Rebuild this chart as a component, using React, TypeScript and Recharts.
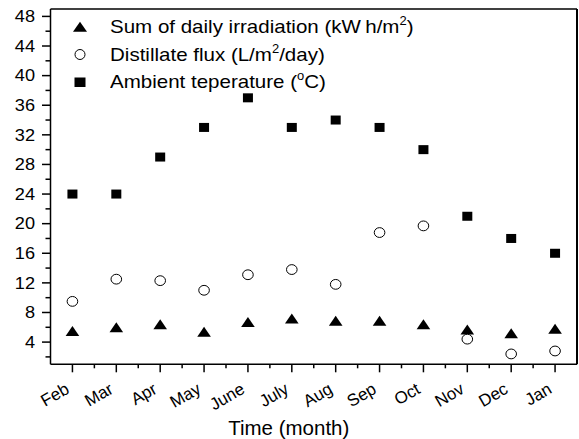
import React from 'react';
import { ScatterChart, Scatter, XAxis, YAxis, Legend } from 'recharts';

const months = ['Feb', 'Mar', 'Apr', 'May', 'June', 'July', 'Aug', 'Sep', 'Oct', 'Nov', 'Dec', 'Jan'];
const irradiation = [5.5, 6.0, 6.4, 5.4, 6.7, 7.2, 6.9, 6.9, 6.4, 5.7, 5.2, 5.8];
const distillate = [9.5, 12.5, 12.3, 11.0, 13.1, 13.8, 11.8, 18.8, 19.7, 4.4, 2.4, 2.8];
const ambient = [24, 24, 29, 33, 37, 33, 34, 33, 30, 21, 18, 16];

const monthPositions = [1, 2, 3, 4, 5, 6, 7, 8, 9, 10, 11, 12];
const monthMinorPositions = [1.5, 2.5, 3.5, 4.5, 5.5, 6.5, 7.5, 8.5, 9.5, 10.5, 11.5];
const yMajorTicks = [4, 8, 12, 16, 20, 24, 28, 32, 36, 40, 44, 48];
const yMinorTicks = [2, 6, 10, 14, 18, 22, 26, 30, 34, 38, 42, 46];
const frameTicks = [1, 2, 3, 4, 5, 6, 7, 8, 9];

const FONT = '"Liberation Sans", Arial, Helvetica, sans-serif';

const toPoints = (vals: number[]) => vals.map((v, i) => ({ x: monthPositions[i], y: v }));
const irrData = toPoints(irradiation);
const disData = toPoints(distillate);
const ambData = toPoints(ambient);

const bottomTicks = [...monthPositions, ...monthMinorPositions].sort((a, b) => a - b);
const leftTicks = [...yMajorTicks, ...yMinorTicks].sort((a, b) => a - b);

const Triangle = (props: any) => {
  const { cx, cy } = props;
  if (cx == null || cy == null) return null;
  return <polygon points={`${cx},${cy - 5} ${cx + 6.8},${cy + 5} ${cx - 6.8},${cy + 5}`} fill="#000" />;
};
const Circle = (props: any) => {
  const { cx, cy } = props;
  if (cx == null || cy == null) return null;
  return <ellipse cx={cx} cy={cy} rx={5.3} ry={4.9} fill="#fff" stroke="#000" strokeWidth={1} />;
};
const Square = (props: any) => {
  const { cx, cy } = props;
  if (cx == null || cy == null) return null;
  return <rect x={cx - 5} y={cy - 4.5} width={10} height={9} fill="#000" />;
};

const BottomTick = (props: any) => {
  const { x, y, payload } = props;
  const v = payload.value;
  const major = Number.isInteger(v);
  return (
    <g>
      <line x1={x} x2={x} y1={y} y2={y + (major ? 8 : 4)} stroke="#000" strokeWidth={1.5} />
      {major && (
        <text
          transform={`translate(${x - 2},${y + 28}) rotate(-30)`}
          textAnchor="end"
          fontSize={17}
          fontFamily={FONT}
          fill="#000"
        >
          {months[v - 1]}
        </text>
      )}
    </g>
  );
};

const LeftTick = (props: any) => {
  const { x, y, payload } = props;
  const v = payload.value;
  const major = v % 4 === 0;
  return (
    <g>
      <line x1={x - (major ? 8.5 : 5)} x2={x} y1={y} y2={y} stroke="#000" strokeWidth={1.5} />
      {major && (
        <text
          transform={`translate(${x - 15.5},${y}) scale(1.1,1)`}
          dy="0.35em"
          textAnchor="end"
          fontSize={16.5}
          fontFamily={FONT}
          fill="#000"
        >
          {v}
        </text>
      )}
    </g>
  );
};

const sup = (s: string) => (
  <span style={{ fontSize: 12, position: 'relative', top: -8 }}>{s}</span>
);

const legendItems = [
  { key: 'tri', label: <>Sum of daily irradiation (kW<span style={{ marginLeft: 4 }}>h</span>/m{sup('2')})</> },
  { key: 'cir', label: <>Distillate flux (L/m{sup('2')}/day)</> },
  { key: 'sq', label: <>Ambient teperature ({sup('o')}C)</> },
];

const LegendIcon = ({ kind }: { kind: string }) => (
  <svg width={20} height={27.5} style={{ display: 'block', flex: 'none' }}>
    {kind === 'tri' && <polygon points="10,6.8 17,16.8 3,16.8" fill="#000" />}
    {kind === 'cir' && <circle cx={10} cy={12.5} r={5} fill="#fff" stroke="#000" strokeWidth={1} />}
    {kind === 'sq' && <rect x={4.5} y={7.5} width={11} height={9.5} fill="#000" />}
  </svg>
);

const LegendContent = () => (
  <div style={{ fontFamily: FONT, color: '#000' }}>
    {legendItems.map((it) => (
      <div key={it.key} style={{ display: 'flex', alignItems: 'center', height: 27.5, whiteSpace: 'nowrap' }}>
        <LegendIcon kind={it.key} />
        <span
          style={{
            marginLeft: 20,
            fontSize: 19,
            display: 'inline-block',
            transform: 'scaleX(1.08)',
            transformOrigin: 'left center',
            lineHeight: '27.5px',
          }}
        >
          {it.label}
        </span>
      </div>
    ))}
  </div>
);

const TitleLabel = (props: any) => {
  const vb = props.viewBox || {};
  return (
    <text
      x={vb.x + vb.width / 2 - 25}
      y={vb.y + vb.height - 4}
      textAnchor="middle"
      fontSize={20.5}
      fontFamily={FONT}
      fill="#000"
    >
      Time (month)
    </text>
  );
};

export default function App() {
  return (
    <div style={{ position: 'absolute', left: 0, top: 0, background: '#fff' }}>
      <ScatterChart width={579} height={439} margin={{ top: 9, right: 2, bottom: 0, left: 0.5 }}>
        <XAxis
          dataKey="x"
          type="number"
          domain={[0.5, 12.5]}
          ticks={bottomTicks}
          interval={0}
          height={74.7}
          tickSize={0}
          tickMargin={0}
          tickLine={false}
          tick={<BottomTick />}
          axisLine={{ stroke: '#000', strokeWidth: 1.5 }}
          allowDataOverflow
          label={<TitleLabel />}
        />
        <XAxis
          xAxisId="top"
          orientation="top"
          type="number"
          domain={[0, 10]}
          ticks={frameTicks}
          interval={0}
          mirror
          tick={false}
          tickSize={4}
          tickLine={{ stroke: '#000', strokeWidth: 1.5 }}
          axisLine={{ stroke: '#000', strokeWidth: 1.5 }}
          allowDataOverflow
        />
        <YAxis
          dataKey="y"
          type="number"
          domain={[1, 49]}
          ticks={leftTicks}
          interval={0}
          width={50}
          tickSize={0}
          tickMargin={0}
          tickLine={false}
          tick={<LeftTick />}
          axisLine={{ stroke: '#000', strokeWidth: 1.5 }}
          allowDataOverflow
        />
        <YAxis
          yAxisId="right"
          orientation="right"
          type="number"
          domain={[0, 10]}
          ticks={frameTicks}
          interval={0}
          mirror
          tick={false}
          tickSize={4}
          tickLine={{ stroke: '#000', strokeWidth: 1.5 }}
          axisLine={{ stroke: '#000', strokeWidth: 2 }}
          allowDataOverflow
        />
        <Legend
          layout="vertical"
          align="center"
          verticalAlign="middle"
          content={<LegendContent />}
          wrapperStyle={{ left: 70, top: 14.5, width: 'auto', height: 'auto' }}
        />
        <Scatter name="Sum of daily irradiation" data={irrData} shape={<Triangle />} isAnimationActive={false} />
        <Scatter name="Distillate flux" data={disData} shape={<Circle />} isAnimationActive={false} />
        <Scatter name="Ambient teperature" data={ambData} shape={<Square />} isAnimationActive={false} />
      </ScatterChart>
    </div>
  );
}
